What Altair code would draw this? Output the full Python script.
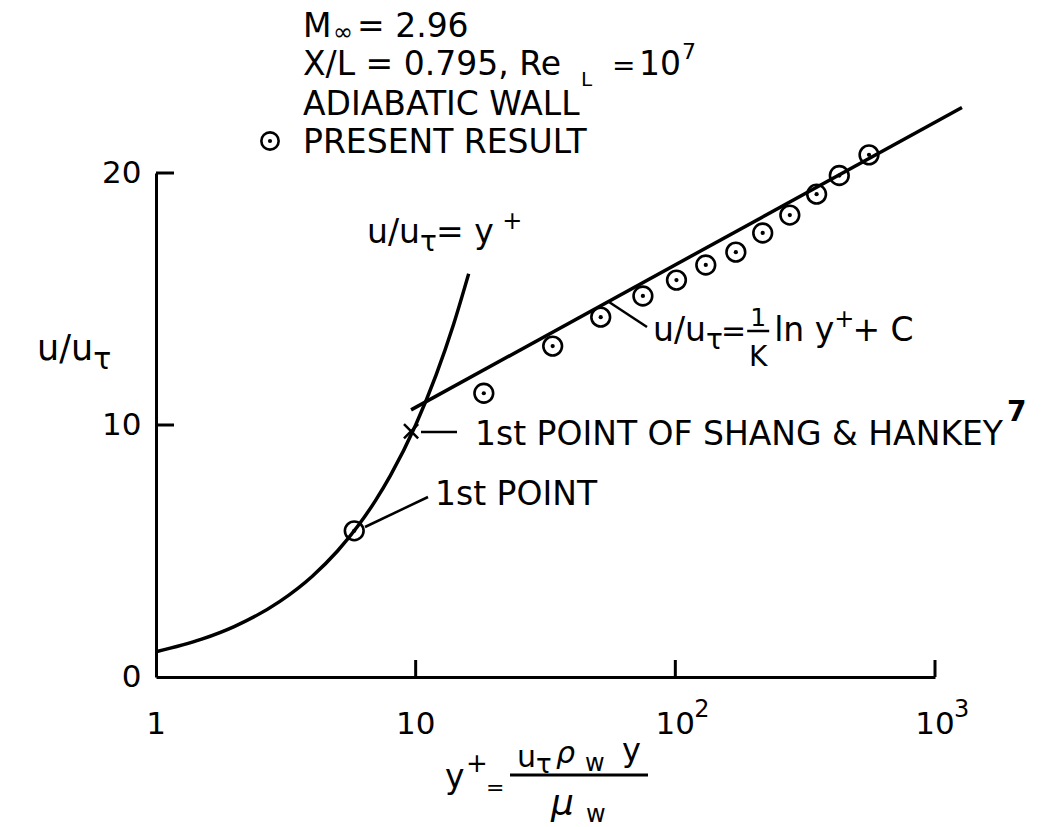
import altair as alt
import pandas as pd

# ---------------- data ----------------
yplus_present = [5.8, 18.3, 33.7, 51.6, 75, 101, 131, 171, 217, 276, 350, 428, 557]
u_present = [5.8, 11.26, 13.13, 14.28, 15.12, 15.75, 16.35, 16.86, 17.62, 18.33, 19.16, 19.9, 20.72]

yplus_sublayer = [1, 1.5, 2, 3, 4, 5, 6, 7, 8, 10, 12, 14, 16]
u_sublayer = [1, 1.5, 2, 3, 4, 5, 6, 7, 8, 10, 12, 14, 16]

yplus_loglaw = [9.6, 1270]
u_loglaw = [10.6, 22.6]

yplus_shang = [9.6]
u_shang = [9.75]

x_tick_values = [1, 10, 100, 1000]
x_label_base = ["1", "10", "10", "10"]
x_label_exp = ["", "", "2", "3"]
y_tick_values = [0, 10, 20]
x_inner_ticks = [10, 100, 1000]
y_inner_ticks = [10, 20]

# ---------------- layout ----------------
PL, PT, W, H = 156, 173, 779, 504
FONT = "DejaVu Sans"
INK = "black"


def ax(px):
    return px - PL


def ay(py):
    return py - PT


CW = {' ': .318, '/': .337, '=': .838, '+': .838, '.': .318, ',': .318, '&': .780,
      'A': .684, 'B': .686, 'C': .698, 'D': .770, 'E': .632, 'F': .575, 'G': .775,
      'H': .752, 'I': .295, 'K': .656, 'L': .557, 'M': .863, 'N': .748, 'O': .787,
      'P': .603, 'R': .695, 'S': .635, 'T': .611, 'U': .732, 'W': .989, 'X': .685,
      'Y': .611, 'e': .615, 'l': .278, 'n': .634, 's': .521, 't': .392, 'u': .634,
      'y': .592, 'w': .818, 'τ': .575, 'ρ': .635, 'μ': .636, '∞': .833}


def tw(s, size):
    return sum(CW.get(c, .636) for c in s) * size


def txt(px, py, s, size=33, style="normal", weight="normal", align="left"):
    return alt.Chart().mark_text(
        text=s, font=FONT, fontSize=size, fontStyle=style, fontWeight=weight,
        color=INK, align=align, baseline="alphabetic"
    ).encode(x=alt.value(ax(px)), y=alt.value(ay(py)))


def chain(x0, base, pieces):
    """pieces: (text, size, dy, dx, weight)"""
    out = []
    x = x0
    for p in pieces:
        s, size, dy = p[0], p[1], p[2]
        dx = p[3] if len(p) > 3 else 0
        weight = p[4] if len(p) > 4 else "normal"
        x += dx
        out.append(txt(x, base + dy, s, size, weight=weight))
        x += tw(s, size)
    return out, x


def seg(x1, y1, x2, y2, w=2.5):
    return alt.Chart().mark_rule(color=INK, strokeWidth=w).encode(
        x=alt.value(ax(x1)), x2=alt.value(ax(x2)), y=alt.value(ay(y1)), y2=alt.value(ay(y2)))


# ---------------- scales / axes ----------------
xs = alt.Scale(type="log", domain=[1, 1000], nice=False)
ys = alt.Scale(domain=[0, 20], nice=False, zero=False)

x_axis = alt.Axis(values=x_tick_values, labels=False, title=None, grid=False,
                  ticks=False, tickSize=0, domainColor=INK, domainWidth=3)
y_axis = alt.Axis(values=y_tick_values, title=None, grid=False, ticks=False, tickSize=0,
                  domainColor=INK, domainWidth=3, labelFont=FONT, labelFontSize=31,
                  labelColor=INK, labelPadding=15, labelFlush=False, labelOverlap=False)

present_df = pd.DataFrame({"yplus": yplus_present, "u": u_present})
sub_df = pd.DataFrame({"yplus": yplus_sublayer, "u": u_sublayer})
log_df = pd.DataFrame({"yplus": yplus_loglaw, "u": u_loglaw})
shang_df = pd.DataFrame({"yplus": yplus_shang, "u": u_shang})
xt_df = pd.DataFrame({"yplus": x_inner_ticks})
yt_df = pd.DataFrame({"u": y_inner_ticks})
xl_df = pd.DataFrame({"yplus": x_tick_values, "base": x_label_base, "exp": x_label_exp})

X = alt.X("yplus:Q", scale=xs, axis=x_axis)
Y = alt.Y("u:Q", scale=ys, axis=y_axis)

sub_line = alt.Chart(sub_df).mark_line(color=INK, strokeWidth=3.5, interpolate="monotone").encode(x=X, y=Y)
log_line = alt.Chart(log_df).mark_line(color=INK, strokeWidth=3.5).encode(x=X, y=Y)
circles = alt.Chart(present_df).mark_point(shape="circle", filled=False, size=350, strokeWidth=2.6,
                                           color=INK, opacity=1).encode(x=X, y=Y)
dots = alt.Chart(present_df).mark_point(shape="circle", filled=True, size=18, color=INK,
                                        opacity=1).encode(x=X, y=Y)
shang = alt.Chart(shang_df).mark_point(shape="M-1,-1L1,1M1,-1L-1,1", filled=False, size=200,
                                       strokeWidth=2.5, color=INK, opacity=1).encode(x=X, y=Y)

xticks = alt.Chart(xt_df).mark_rule(color=INK, strokeWidth=3).encode(
    x=X, y=alt.value(H), y2=alt.value(H - 17))
yticks = alt.Chart(yt_df).mark_rule(color=INK, strokeWidth=3).encode(
    y=Y, x=alt.value(0), x2=alt.value(18))

xlab = alt.Chart(xl_df).mark_text(font=FONT, fontSize=31, color=INK, align="center",
                                  baseline="alphabetic").encode(
    x=X, y=alt.value(H + 57), text="base:N")
xexp = alt.Chart(xl_df).mark_text(font=FONT, fontSize=24, color=INK, align="left",
                                  baseline="alphabetic", dx=19).encode(
    x=X, y=alt.value(H + 40), text="exp:N")

layers = [sub_line, log_line, circles, dots, shang, xticks, yticks, xlab, xexp]

# ---------------- header block ----------------
layers.append(txt(303, 37, "M", 33))
layers.append(txt(333, 40, "∞", 24))
layers.append(txt(357, 37, "= 2.96", 33))
layers.append(txt(303, 75, "X/L = 0.795, Re", 33))
layers.append(txt(581, 86, "L", 20))
layers.append(txt(612, 75, "=", 28))
layers.append(txt(639, 75, "10", 33))
layers.append(txt(682, 59, "7", 22))
layers.append(txt(303, 115, "ADIABATIC WALL"))
layers.append(txt(303, 153, "PRESENT RESULT"))
layers.append(alt.Chart().mark_point(shape="circle", filled=False, size=300, strokeWidth=2.6,
                                     color=INK, opacity=1).encode(x=alt.value(ax(270)), y=alt.value(ay(141))))
layers.append(alt.Chart().mark_point(shape="circle", filled=True, size=18, color=INK,
                                     opacity=1).encode(x=alt.value(ax(270)), y=alt.value(ay(141))))

# ---------------- curve labels ----------------
p, _ = chain(367, 243, [("u/u", 33, 0), ("τ", 28, 8), (" = y", 33, 0), ("+", 24, -14, -2)])
layers += p

p, _ = chain(475, 445, [("1st POINT OF SHANG & HANKEY", 33, 0), ("7", 28, -24, 4, "bold")])
layers += p
layers.append(txt(435, 505, "1st POINT"))

p, xc = chain(653, 341, [("u/u", 33, 0), ("τ", 28, 8), ("=", 30, 0, -1)])
layers += p
fc = xc + 12
layers.append(txt(fc, 326, "1", 25, align="center"))
layers.append(txt(fc, 366, "K", 28, align="center"))
layers.append(seg(fc - 11, 331, fc + 11, 331, 2.5))
p, _ = chain(fc + 16, 341, [("ln y", 33, 0), ("+", 24, -14, 0), (" + C", 33, 0, -2)])
layers += p

# leaders
layers.append(seg(365, 527, 428, 497))
layers.append(seg(421, 432, 457, 432))
layers.append(seg(609, 302, 647, 327))

# ---------------- axis titles ----------------
p, _ = chain(37, 360, [("u/u", 35, 0), ("τ", 30, 9)])
layers += p

layers.append(txt(445, 788, "y", 33))
layers.append(txt(466, 772, "+", 26))
layers.append(txt(486, 795, "=", 22))
layers.append(seg(510, 775, 648, 775, 3))
layers.append(txt(517, 767, "u", 30))
layers.append(txt(536, 773, "τ", 26))
layers.append(txt(556, 763, "ρ", 30, style="italic"))
layers.append(txt(585, 771, "w", 24))
layers.append(txt(622, 761, "y", 32))
layers.append(txt(551, 815, "μ", 36, style="italic"))
layers.append(txt(586, 822, "w", 24))

chart = alt.layer(*layers).properties(
    width=W, height=H,
    padding={"left": PL, "top": PT, "right": 1047 - PL - W, "bottom": 827 - PT - H},
    autosize=alt.AutoSizeParams(type="none"),
    background="white",
).configure_view(stroke=None)

chart.save("out.html", embed_options={"renderer": "svg", "actions": False})
